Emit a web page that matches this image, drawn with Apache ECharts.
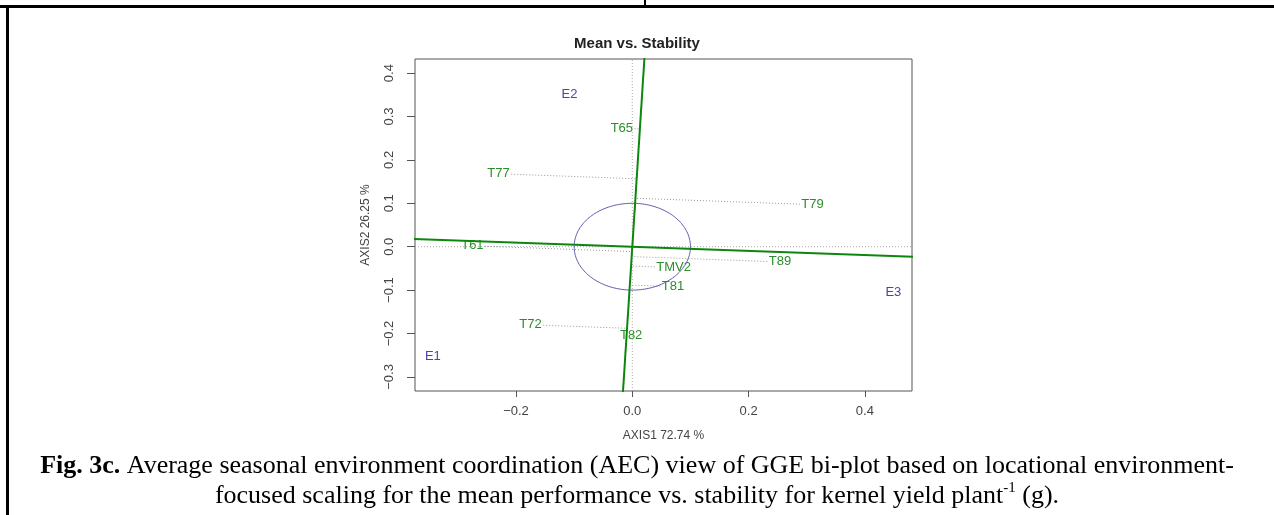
<!DOCTYPE html>
<html>
<head>
<meta charset="utf-8">
<script src="https://cdn.jsdelivr.net/npm/echarts@6/dist/echarts.min.js"></script>
<style>
  html, body { margin: 0; padding: 0; background: #fff; }
  #chart { width: 1274px; height: 515px; }
</style>
</head>
<body>
<div id="chart"></div>
<script>
// GGE biplot scores (mean vs. stability view)
const genotypes = ['T65', 'T77', 'T79', 'T61', 'TMV2', 'T89', 'T81', 'T72', 'T82'];
const genoX = [-0.018, -0.230, 0.310, -0.275, 0.071, 0.254, 0.070, -0.175, -0.002];
const genoY = [0.273, 0.168, 0.097, 0.002, -0.048, -0.035, -0.092, -0.180, -0.205];

const environments = ['E1', 'E2', 'E3'];
const envX = [-0.343, -0.108, 0.449];
const envY = [-0.252, 0.352, -0.106];

// Average-environment axis slope and the circle round the origin
const aecSlope = -0.048;
const circleCentre = [0, 0];
const circleRadius = 0.1;

// Axis extents and tick values
const xRange = [-0.3737, 0.481];
const yRange = [-0.3325, 0.4325];
const xTicks = [-0.2, 0, 0.2, 0.4];
const yTicks = [-0.3, -0.2, -0.1, 0, 0.1, 0.2, 0.3, 0.4];

// Figure caption
const captionLead = 'Fig. 3c.';
const captionLine1 = ' Average seasonal environment coordination (AEC) view of GGE bi-plot based on locational environment-';
const captionLine2 = 'focused scaling for the mean performance vs. stability for kernel yield plant';
const captionSup = '-1';
const captionTail = ' (g).';

const GREEN_TEXT = '#2a8f2a';
const GREEN_LINE = '#0c870c';
const BLUE = '#4646a8';
const SANS = '"Liberation Sans", Arial, sans-serif';
const SERIF = '"Liberation Serif", "Times New Roman", serif';
const LABEL_FONT = '13px ' + SANS;
const CAP_SIZE = 26;

const tickFmt = v => (v < 0 ? '\u2212' : '') + Math.abs(v).toFixed(1);

// Text half-widths, used to start each projection line at the label's edge
const measureCtx = document.createElement('canvas').getContext('2d');
measureCtx.font = LABEL_FONT;
const halfWidth = name => measureCtx.measureText(name).width / 2;

// Foot of each genotype on the ordinate (perpendicular to the AEC abscissa)
const norm = Math.sqrt(1 + aecSlope * aecSlope);
const ordDir = [-aecSlope / norm, 1 / norm];
const projData = genotypes.map((g, i) => {
  const t = genoX[i] * ordDir[0] + genoY[i] * ordDir[1];
  return [genoX[i], genoY[i], t * ordDir[0], t * ordDir[1], i];
});

const abscissa = [[-1, aecSlope * -1], [1, aecSlope * 1]];
const ordinate = [[-ordDir[0] / ordDir[1], -1], [ordDir[0] / ordDir[1], 1]];

const labelData = genotypes.map((g, i) => [genoX[i], genoY[i], g, 0])
  .concat(environments.map((e, i) => [envX[i], envY[i], e, 1]));

const chart = echarts.init(document.getElementById('chart'), null, { renderer: 'canvas' });

chart.setOption({
  backgroundColor: '#fff',
  animation: false,
  title: {
    text: 'Mean vs. Stability',
    left: 'center',
    top: 31,
    textStyle: { fontFamily: SANS, fontWeight: 'bold', fontSize: 15, color: '#222' }
  },
  grid: {
    left: 415, right: 362, top: 59, bottom: 124,
    show: true, borderColor: '#555', borderWidth: 1, backgroundColor: 'transparent'
  },
  xAxis: {
    type: 'value', min: xRange[0], max: xRange[1],
    name: 'AXIS1 72.74 %', nameLocation: 'middle', nameGap: 39,
    nameTextStyle: { fontFamily: SANS, fontSize: 12, color: '#444' },
    axisLine: { show: false, onZero: false },
    splitLine: { show: false },
    axisTick: { show: true, customValues: xTicks, length: 6, inside: false, lineStyle: { color: '#555' } },
    axisLabel: { customValues: xTicks, formatter: tickFmt, margin: 14, color: '#444', fontFamily: SANS, fontSize: 13 }
  },
  yAxis: {
    type: 'value', min: yRange[0], max: yRange[1],
    name: 'AXIS2 26.25 %', nameLocation: 'middle', nameGap: 43,
    nameTextStyle: { fontFamily: SANS, fontSize: 12, color: '#444' },
    axisLine: { show: false, onZero: false },
    splitLine: { show: false },
    axisTick: { show: true, customValues: yTicks, length: 8, inside: false, lineStyle: { color: '#555' } },
    axisLabel: { customValues: yTicks, formatter: tickFmt, rotate: 90, margin: 19, color: '#444', fontFamily: SANS, fontSize: 13 }
  },
  series: [
    {
      // genotype and environment labels
      type: 'custom', z: 2, silent: true,
      data: labelData,
      renderItem: (params, api) => {
        const p = api.coord([api.value(0), api.value(1)]);
        const isEnv = api.value(3) === 1;
        return {
          type: 'text', x: p[0], y: p[1],
          style: { text: String(api.value(2)), fill: isEnv ? BLUE : GREEN_TEXT, font: LABEL_FONT,
            align: 'center', verticalAlign: 'middle' }
        };
      },
      encode: { x: 0, y: 1 }
    },
    {
      // dotted reference axes through the origin
      type: 'line', z: 3, silent: true, showSymbol: false,
      data: [[xRange[0], 0], [xRange[1], 0]],
      lineStyle: { color: '#aaa', width: 1, type: [1, 2] }
    },
    {
      type: 'line', z: 3, silent: true, showSymbol: false,
      data: [[0, yRange[0]], [0, yRange[1]]],
      lineStyle: { color: '#aaa', width: 1, type: [1, 2] }
    },
    {
      // projections of genotypes onto the ordinate
      type: 'custom', z: 3, silent: true,
      data: projData,
      renderItem: (params, api) => {
        const a = api.coord([api.value(0), api.value(1)]);
        const b = api.coord([api.value(2), api.value(3)]);
        const dx = b[0] - a[0], dy = b[1] - a[1];
        const len = Math.sqrt(dx * dx + dy * dy);
        const off = halfWidth(genotypes[api.value(4)]) + 1.5;
        if (len <= off) return null;
        return {
          type: 'line',
          shape: { x1: a[0] + dx / len * off, y1: a[1] + dy / len * off, x2: b[0], y2: b[1] },
          style: { stroke: '#999', lineWidth: 1, lineDash: [1, 2] }
        };
      },
      encode: { x: 0, y: 1 }
    },
    {
      // circle round the origin
      type: 'custom', z: 4, silent: true,
      data: [[circleCentre[0], circleCentre[1], circleRadius]],
      renderItem: (params, api) => {
        const c = api.coord([api.value(0), api.value(1)]);
        const r = api.value(2);
        const rx = api.size([r, 0])[0];
        const ry = api.size([0, r])[1];
        const pts = [];
        for (let k = 0; k < 180; k++) {
          const ang = k / 180 * Math.PI * 2;
          pts.push([c[0] + rx * Math.cos(ang), c[1] + ry * Math.sin(ang)]);
        }
        return { type: 'polygon', shape: { points: pts }, style: { fill: 'none', stroke: '#5c5cb0', lineWidth: 1 } };
      },
      encode: { x: 0, y: 1 }
    },
    {
      // AEC abscissa
      type: 'line', z: 5, silent: true, showSymbol: false, clip: true,
      data: abscissa,
      lineStyle: { color: GREEN_LINE, width: 2 }
    },
    {
      // AEC ordinate
      type: 'line', z: 5, silent: true, showSymbol: false, clip: true,
      data: ordinate,
      lineStyle: { color: GREEN_LINE, width: 2 }
    }
  ],
  graphic: [
    { type: 'rect', shape: { x: 0, y: 5, width: 1274, height: 3 }, style: { fill: '#000' } },
    { type: 'rect', shape: { x: 6, y: 5, width: 3, height: 510 }, style: { fill: '#000' } },
    { type: 'rect', shape: { x: 644, y: 0, width: 2, height: 6 }, style: { fill: '#000' } },
    {
      type: 'text', x: 637, y: 466,
      style: {
        text: '{b|' + captionLead + '}{r|' + captionLine1 + '}',
        align: 'center', verticalAlign: 'middle',
        rich: {
          b: { fontFamily: SERIF, fontWeight: 'bold', fontSize: CAP_SIZE, fill: '#000' },
          r: { fontFamily: SERIF, fontSize: CAP_SIZE, fill: '#000' }
        }
      }
    },
    {
      type: 'text', x: 637, y: 496,
      style: {
        text: '{r|' + captionLine2 + '}{s|' + captionSup + '}{r|' + captionTail + '}',
        align: 'center', verticalAlign: 'middle',
        rich: {
          r: { fontFamily: SERIF, fontSize: CAP_SIZE, fill: '#000', lineHeight: 30 },
          s: { fontFamily: SERIF, fontSize: 15, fill: '#000', verticalAlign: 'top', lineHeight: 15 }
        }
      }
    }
  ]
});
</script>
</body>
</html>
